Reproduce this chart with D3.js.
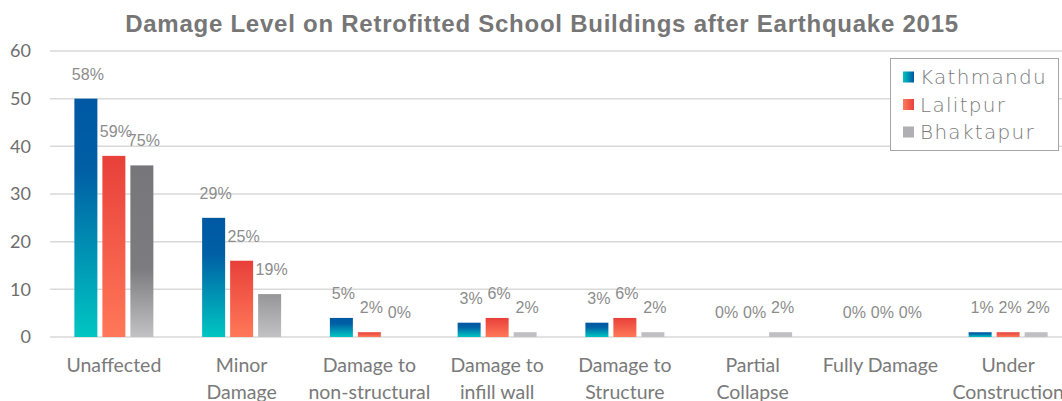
<!DOCTYPE html>
<html>
<head>
<meta charset="utf-8">
<script src="https://cdn.jsdelivr.net/npm/d3@7"></script>
<style>
  html, body { margin: 0; padding: 0; background: #ffffff; }
  svg { display: block; }
</style>
</head>
<body>
<svg id="chart" width="1062" height="401"></svg>
<script>
// ---- data ----
const categories = [
  ["Unaffected"],
  ["Minor", "Damage"],
  ["Damage to", "non-structural"],
  ["Damage to", "infill wall"],
  ["Damage to", "Structure"],
  ["Partial", "Collapse"],
  ["Fully Damage"],
  ["Under", "Construction"]
];
const series = ["Kathmandu", "Lalitpur", "Bhaktapur"];
const kathmandu = [50, 25, 4, 3, 3, 0, 0, 1];
const lalitpur  = [38, 16, 1, 4, 4, 0, 0, 1];
const bhaktapur = [36, 9, 0, 1, 1, 1, 0, 1];
const kathmanduPct = ["58%", "29%", "5%", "3%", "3%", "0%", "0%", "1%"];
const lalitpurPct  = ["59%", "25%", "2%", "6%", "6%", "0%", "0%", "2%"];
const bhaktapurPct = ["75%", "19%", "0%", "2%", "2%", "2%", "0%", "2%"];
const yTicks = [0, 10, 20, 30, 40, 50, 60];
const title = "Damage Level on Retrofitted School Buildings after Earthquake 2015";

const values = [kathmandu, lalitpur, bhaktapur];
const pcts = [kathmanduPct, lalitpurPct, bhaktapurPct];
const catKeys = categories.map(c => c.join(" "));

// ---- layout ----
const svg = d3.select("#chart");
const plotLeft = 50, plotRight = 1072, plotTop = 51, plotBottom = 337;

const x = d3.scaleBand().domain(catKeys).range([plotLeft, plotRight]).paddingInner(0).paddingOuter(0);
const xs = d3.scaleBand().domain(series).range([0, x.bandwidth()]).paddingInner(0.1786).paddingOuter(0.871);
const y = d3.scaleLinear().domain([0, 60]).range([plotBottom, plotTop]);

// ---- gradients ----
const defs = svg.append("defs");
function vGrad(id, stops, units) {
  const g = defs.append("linearGradient").attr("id", id).attr("x1", 0).attr("x2", 0);
  if (units === "user") {
    g.attr("gradientUnits", "userSpaceOnUse").attr("y1", y(36)).attr("y2", y(0));
  } else {
    g.attr("y1", 0).attr("y2", 1);
  }
  stops.forEach(s => g.append("stop").attr("offset", s[0]).attr("stop-color", s[1]));
}
vGrad("gK", [[0, "#0058a3"], [0.3, "#005fa5"], [1, "#00c6c2"]]);
vGrad("gL", [[0, "#e8403a"], [1, "#ff7858"]]);
vGrad("gB", [[0, "#77777b"], [0.6, "#7c7c80"], [1, "#c2c2c4"]], "user");
function hGrad(id, c1, c2) {
  const g = defs.append("linearGradient").attr("id", id).attr("x1", 0).attr("x2", 1).attr("y1", 0).attr("y2", 0);
  g.append("stop").attr("offset", 0).attr("stop-color", c1);
  g.append("stop").attr("offset", 1).attr("stop-color", c2);
}
hGrad("lgK", "#00c4c0", "#0058a3");
hGrad("lgL", "#ff7a5c", "#e8403a");
const fills = ["url(#gK)", "url(#gL)", "url(#gB)"];
const legendFills = ["url(#lgK)", "url(#lgL)", "#b0b0b4"];

// ---- title ----
svg.append("text")
  .attr("x", 542).attr("y", 32)
  .attr("text-anchor", "middle")
  .style("font-family", "'Liberation Sans', Arial, sans-serif")
  .style("font-weight", "bold")
  .style("font-size", "24px")
  .style("letter-spacing", "0.75px")
  .style("fill", "#767676")
  .text(title);

// ---- gridlines ----
svg.append("g").selectAll("line").data(yTicks).join("line")
  .attr("x1", plotLeft).attr("x2", 1062)
  .attr("y1", d => y(d)).attr("y2", d => y(d))
  .attr("stroke", "#d9d9d9").attr("stroke-width", 1.5);

// ---- y axis labels ----
const yAxis = d3.axisLeft(y).tickValues(yTicks).tickSize(0).tickPadding(0);
const yg = svg.append("g").attr("transform", "translate(31,0)").call(yAxis);
yg.select(".domain").remove();
yg.selectAll("text")
  .style("font-family", "Lato, 'Open Sans', sans-serif")
  .style("font-size", "18px")
  .style("fill", "#6e6e6e");

// ---- bars ----
const groups = svg.append("g").selectAll("g").data(catKeys).join("g")
  .attr("transform", d => `translate(${x(d)},0)`);
series.forEach((s, si) => {
  groups.append("rect")
    .attr("x", xs(s))
    .attr("width", xs.bandwidth())
    .attr("y", (d, i) => y(values[si][i]))
    .attr("height", (d, i) => y(0) - y(values[si][i]))
    .attr("fill", fills[si]);
  groups.append("text")
    .attr("x", xs(s) + xs.bandwidth() / 2 + 2)
    .attr("y", (d, i) => y(values[si][i]) - 19)
    .attr("text-anchor", "middle")
    .style("font-family", "'Liberation Sans', Arial, sans-serif")
    .style("font-size", "16px")
    .style("fill", "#8c8c8c")
    .text((d, i) => pcts[si][i]);
});

// ---- x axis labels ----
const xAxis = d3.axisBottom(x).tickSize(0).tickFormat("");
const xg = svg.append("g").attr("transform", `translate(0,${plotBottom})`).call(xAxis);
xg.select(".domain").remove();
xg.selectAll(".tick").each(function(d, i) {
  const t = d3.select(this).append("text")
    .attr("text-anchor", "middle")
    .style("font-family", "Lato, 'Open Sans', sans-serif")
    .style("font-size", "19.5px")
    .style("fill", "#7a7a7a");
  categories[i].forEach((line, li) => {
    t.append("tspan").attr("x", 0).attr("y", 35 + li * 26.5).text(line);
  });
});

// ---- legend ----
const lg = svg.append("g");
lg.append("rect")
  .attr("x", 890.5).attr("y", 58.5).attr("width", 168).attr("height", 92)
  .attr("fill", "#ffffff").attr("stroke", "#a6a6a6").attr("stroke-width", 1);
series.forEach((s, si) => {
  const cy = 77 + si * 27.5;
  lg.append("rect").attr("x", 903).attr("y", cy - 5.5).attr("width", 11).attr("height", 11)
    .attr("fill", legendFills[si]);
  lg.append("text").attr("x", 920).attr("y", cy + 7)
    .style("font-family", "'DejaVu Sans', sans-serif")
    .style("font-weight", 200)
    .style("font-size", "20px")
    .style("letter-spacing", "1.3px")
    .style("fill", "#7a7a7a")
    .text(s);
});
</script>
</body>
</html>
